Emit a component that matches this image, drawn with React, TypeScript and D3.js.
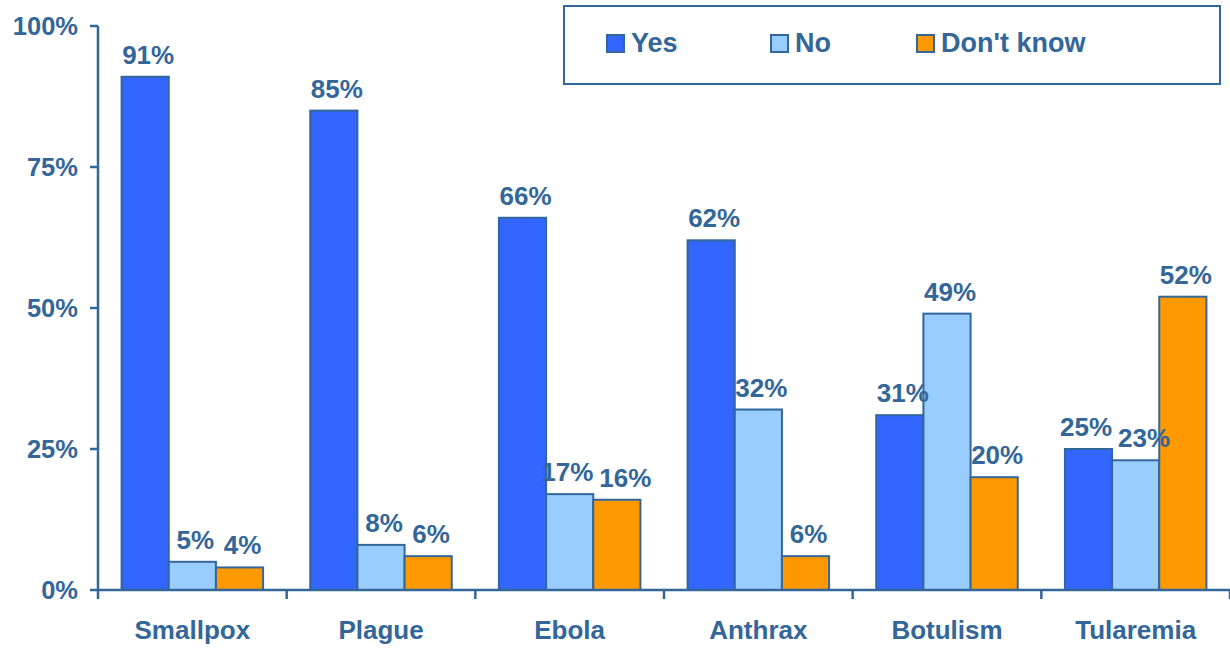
import React from "react";
import * as d3 from "d3";

const categories = ["Smallpox", "Plague", "Ebola", "Anthrax", "Botulism", "Tularemia"];
const seriesNames = ["Yes", "No", "Don't know"];
const yesValues = [91, 85, 66, 62, 31, 25];
const noValues = [5, 8, 17, 32, 49, 23];
const dontKnowValues = [4, 6, 16, 6, 20, 52];
const yTicks = [0, 25, 50, 75, 100];
const colors = ["#3366FF", "#99CCFF", "#FF9900"];

const W = 1230;
const H = 649;
const INK = "#336699";
const FONT = "'Liberation Sans', Arial, sans-serif";
const LABEL_SIZE = 26;

export default function App() {
  const seriesValues = [yesValues, noValues, dontKnowValues];
  const left = 98;
  const right = 1230;
  const top = 26;
  const bottom = 590;

  const y = d3.scaleLinear().domain([0, 100]).range([bottom, top]);
  const x0 = d3.scaleBand<string>().domain(categories).range([left, right]).padding(0);
  const bw = x0.bandwidth();
  const x1 = d3
    .scaleBand<string>()
    .domain(seriesNames)
    .range([bw * 0.125, bw * 0.875])
    .padding(0);

  const boundaries = d3.range(categories.length + 1).map((i) => left + i * bw);

  // label placement with simple collision avoidance
  const labelW = (v: number) => (String(v).length * 0.556 + 0.889) * LABEL_SIZE;
  const labels = categories.map((c, ci) => {
    const items = seriesNames.map((s, si) => {
      const v = seriesValues[si][ci];
      return {
        v,
        si,
        cx: x0(c)! + x1(s)! + x1.bandwidth() / 2 + 3,
        by: y(v) - 13,
      };
    });
    for (let k = 0; k < items.length - 1; k++) {
      const a = items[k];
      const b = items[k + 1];
      const vOverlap = Math.abs(a.by - b.by) < LABEL_SIZE * 0.8;
      const need = (labelW(a.v) + labelW(b.v)) / 2 + 6;
      const have = b.cx - a.cx;
      if (vOverlap && have < need) {
        const d = (need - have) / 2;
        a.cx -= d;
        b.cx += d;
      }
    }
    return items;
  });

  return (
    <svg
      width={W}
      height={H}
      style={{ position: "absolute", left: 0, top: 0, background: "#fff" }}
      fontFamily={FONT}
    >
      {/* bars */}
      {categories.map((c, ci) => (
        <g key={c} transform={`translate(${x0(c)},0)`}>
          {seriesNames.map((s, si) => {
            const v = seriesValues[si][ci];
            return (
              <rect
                key={s}
                x={x1(s)!}
                y={y(v)}
                width={x1.bandwidth()}
                height={bottom - y(v)}
                fill={colors[si]}
                stroke={INK}
                strokeWidth={2}
              />
            );
          })}
        </g>
      ))}
      {labels.flat().map((l, i) => (
        <text
          key={i}
          x={l.cx}
          y={l.by}
          textAnchor="middle"
          fontSize={LABEL_SIZE}
          fontWeight="bold"
          fill={INK}
        >
          {l.v}%
        </text>
      ))}

      {/* y axis */}
      <line x1={left} x2={left} y1={top} y2={bottom} stroke={INK} strokeWidth={2.5} />
      {yTicks.map((t) => (
        <g key={t}>
          <line x1={left - 8} x2={left} y1={y(t)} y2={y(t)} stroke={INK} strokeWidth={2.5} />
          <text
            x={78}
            y={y(t)}
            dy="0.36em"
            textAnchor="end"
            fontSize={25.5}
            fontWeight="bold"
            fill={INK}
          >
            {t}%
          </text>
        </g>
      ))}

      {/* x axis */}
      <line x1={left} x2={right} y1={bottom} y2={bottom} stroke={INK} strokeWidth={2.5} />
      {boundaries.map((b, i) => (
        <line key={i} x1={b} x2={b} y1={bottom} y2={bottom + 9} stroke={INK} strokeWidth={2.5} />
      ))}
      {categories.map((c) => (
        <text
          key={c}
          x={x0(c)! + bw / 2}
          y={639}
          textAnchor="middle"
          fontSize={26}
          fontWeight="bold"
          fill={INK}
        >
          {c}
        </text>
      ))}

      {/* legend */}
      <rect x={564} y={6} width={656} height={78} fill="#fff" stroke={INK} strokeWidth={2} />
      {seriesNames.map((s, i) => {
        const lx = [607, 771, 917][i];
        return (
          <g key={s}>
            <rect x={lx} y={35} width={17} height={17} fill={colors[i]} stroke={INK} strokeWidth={2} />
            <text x={lx + 24} y={52} fontSize={27} fontWeight="bold" fill={INK}>
              {s}
            </text>
          </g>
        );
      })}
    </svg>
  );
}
